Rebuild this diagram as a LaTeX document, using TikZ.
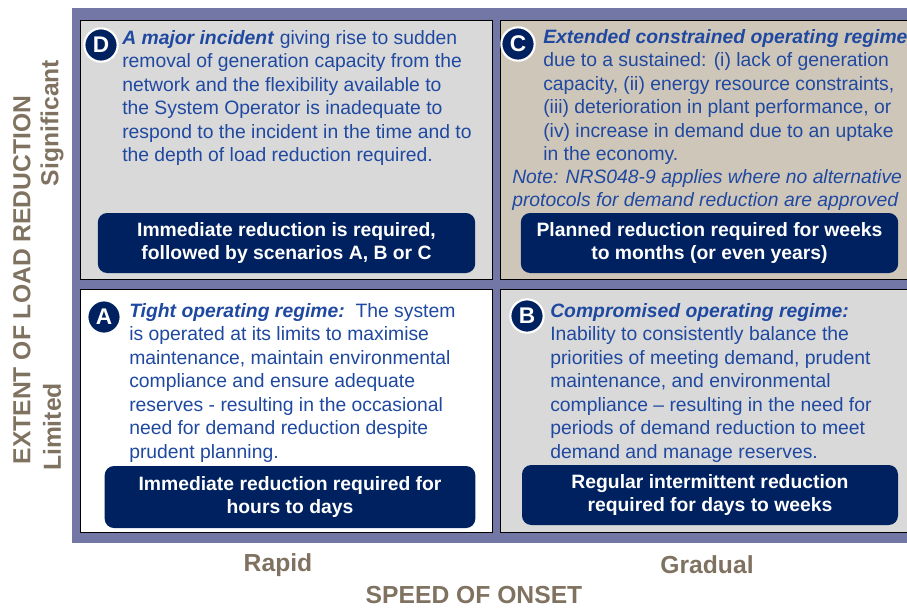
\documentclass[tikz,border=0pt]{standalone}
\usepackage{fontspec}
\setmainfont{Liberation Sans}
\definecolor{framec}{RGB}{115,119,166}
\definecolor{panelgray}{RGB}{217,217,217}
\definecolor{paneltan}{RGB}{207,198,186}
\definecolor{navy}{RGB}{0,33,96}
\definecolor{txtblue}{RGB}{31,73,160}
\definecolor{axisbrown}{RGB}{128,114,96}
\newcommand{\hd}[1]{\textbf{\textit{#1}}}
\tikzset{
  body/.style={anchor=north west, align=left, inner sep=0pt, text=txtblue,
    font=\fontsize{14.5}{17.6}\selectfont},
  resbox/.style={fill=navy, rounded corners=7pt, text=white, align=center,
    font=\bfseries\fontsize{14.5}{17.3}\selectfont},
  badge/.style={circle, fill=navy, draw=white, line width=1.6pt, text=white,
    inner sep=0pt, minimum size=25pt, font=\bfseries\fontsize{17}{17}\selectfont},
  axislabel/.style={text=axisbrown, inner sep=1pt, font=\bfseries\fontsize{18.5}{18.5}\selectfont},
  panel/.style={draw={RGB:red,225;green,225;blue,235}, line width=0.6pt}
}
\begin{document}
\begin{tikzpicture}[x=0.75pt, y=-0.75pt]
                \useasboundingbox (0,0) rectangle (907,608);
                \path (72,8) coordinate (frameTL);
                \path (910,543) coordinate (frameBR);
                \fill[framec] (frameTL) rectangle (frameBR);
                \filldraw[panel, fill=panelgray] (80,20) rectangle (492,279);
                \filldraw[panel, fill=paneltan] (500,20) rectangle (912,279);
                \filldraw[panel, fill=white] (80,289) rectangle (492,532);
                \filldraw[panel, fill=panelgray] (500,289) rectangle (912,532);
                \node[body] (txtD) at (122,30) {\hd{A major incident} giving rise to sudden\\
                    removal of generation capacity from the\\
                    network and the flexibility available to\\
                    the System Operator is inadequate to\\
                    respond to the incident in the time and to\\
                    the depth of load reduction required.};
                \node[body] (txtC) at (543,29) {\hd{Extended constrained operating regime}\\
                    due to a sustained: (i) lack of generation\\
                    capacity, (ii) energy resource constraints,\\
                    (iii) deterioration in plant performance, or\\
                    (iv) increase in demand due to an uptake\\
                    in the economy.};
                \node[body, font=\itshape\fontsize{14.5}{17.6}\selectfont] (noteC) at (512,169)
                    {Note: NRS048-9 applies where no alternative\\
                    protocols for demand reduction are approved};
                \node[body] (txtA) at (129,303) {\hd{Tight operating regime:}\ \ The system\\
                    is operated at its limits to maximise\\
                    maintenance, maintain environmental\\
                    compliance and ensure adequate\\
                    reserves - resulting in the occasional\\
                    need for demand reduction despite\\
                    prudent planning.};
                \node[body] (txtB) at (550,303) {\hd{Compromised operating regime:}\\
                    Inability to consistently balance the\\
                    priorities of meeting demand, prudent\\
                    maintenance, and environmental\\
                    compliance -- resulting in the need for\\
                    periods of demand reduction to meet\\
                    demand and manage reserves.};
                \node[badge] (bD) at (101,45) {D};
                \node[badge] (bC) at (518,44) {C};
                \node[badge] (bA) at (104,317) {A};
                \node[badge] (bB) at (527,316) {B};
                \node[resbox, minimum width=283pt, minimum height=45pt] (resD) at (286.5,243)
                    {Immediate reduction is required,\\followed by scenarios A, B or C};
                \node[resbox, minimum width=283pt, minimum height=45pt] (resC) at (709.5,243)
                    {Planned reduction required for weeks\\to months (or even years)};
                \node[resbox, minimum width=278pt, minimum height=46.5pt] (resA) at (290,497)
                    {Immediate reduction required for\\hours to days};
                \node[resbox, minimum width=282pt, minimum height=45pt] (resB) at (710,495)
                    {Regular intermittent reduction\\required for days to weeks};
                \node[axislabel, rotate=90] (extent) at (22,280) {EXTENT OF LOAD REDUCTION};
                \node[axislabel, rotate=90] (signif) at (52,123) {Significant};
                \node[axislabel, rotate=90] (limited) at (52,427) {Limited};
                \node[axislabel] (rapid) at (278,565) {Rapid};
                \node[axislabel] (gradual) at (707,565) {Gradual};
                \node[axislabel] (speed) at (474,595) {SPEED OF ONSET};
            \end{tikzpicture}
\end{document}
